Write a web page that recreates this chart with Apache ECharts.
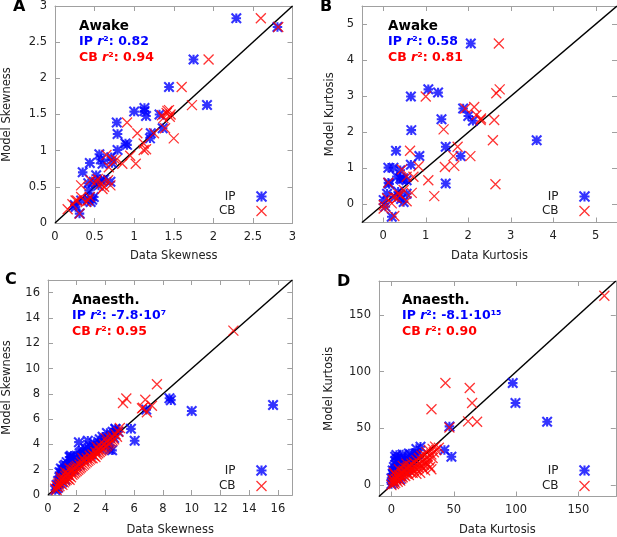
<!DOCTYPE html>
<html><head><meta charset="utf-8">
<script src="https://cdn.jsdelivr.net/npm/echarts@6/dist/echarts.min.js"></script>
<style>html,body{margin:0;padding:0;background:#fff}#c{width:617px;height:537px}</style>
</head><body><div id="c"></div>
<script>
// ---------- data ----------
const aIP=[[2.29,2.83],[2.81,2.71],[1.75,2.26],[1.44,1.88],[1.92,1.63],[1.0,1.54],[1.13,1.59],[1.15,1.48],[1.32,1.50],[0.78,1.39],[0.79,1.23],[0.89,1.10],[0.91,1.08],[0.79,1.01],[1.21,1.24],[1.20,1.17],[1.36,1.31],[0.56,0.95],[0.58,0.88],[0.60,0.82],[0.44,0.83],[0.35,0.70],[0.71,0.91],[0.72,0.83],[0.42,0.55],[0.43,0.45],[0.49,0.57],[0.58,0.59],[0.52,0.66],[0.70,0.57],[0.42,0.33],[0.45,0.29],[0.33,0.31],[0.26,0.22],[0.31,0.13],[0.49,0.36],[1.13,1.55],[0.62,0.60],[0.55,0.52],[0.25,0.25],[0.47,0.32]];
const aCB=[[2.60,2.83],[2.82,2.71],[1.94,2.26],[1.60,1.88],[1.73,1.63],[0.91,1.39],[1.04,1.24],[1.41,1.52],[1.44,1.56],[1.37,1.45],[1.39,1.31],[1.50,1.17],[1.12,1.10],[1.12,1.01],[1.25,1.24],[0.95,0.93],[1.02,0.82],[0.85,0.82],[0.65,0.94],[0.77,0.87],[0.68,0.77],[0.54,0.61],[0.58,0.54],[0.62,0.50],[0.52,0.57],[0.67,0.59],[0.33,0.52],[0.45,0.59],[0.33,0.36],[0.42,0.31],[0.44,0.36],[0.22,0.26],[0.16,0.19],[0.31,0.13],[0.39,0.29],[0.26,0.31],[1.42,1.55],[1.35,1.49],[1.46,1.50],[1.45,1.47],[0.60,0.47],[0.70,0.52],[0.28,0.31],[0.72,0.87],[1.15,1.02]];
const bIP=[[2.06,4.46],[1.06,3.19],[1.29,3.10],[0.65,2.99],[1.88,2.66],[2.00,2.45],[2.11,2.32],[1.37,2.36],[0.66,2.06],[1.47,1.60],[1.82,1.34],[3.61,1.78],[0.30,1.49],[0.85,1.34],[0.65,1.10],[0.12,1.02],[0.24,1.02],[0.40,0.95],[0.32,0.77],[0.48,0.72],[0.40,0.72],[0.55,0.67],[1.47,0.58],[0.12,0.60],[0.09,0.30],[0.05,-0.06],[0.20,-0.34],[0.55,0.30],[0.48,0.07],[0.28,0.21],[0.01,0.12],[0.43,0.69],[0.14,0.57],[0.35,0.35],[0.42,0.15]];
const bCB=[[2.72,4.46],[1.00,2.99],[2.74,3.19],[2.66,3.08],[1.93,2.66],[2.19,2.48],[2.29,2.34],[2.61,2.34],[1.42,2.08],[2.58,1.78],[1.75,1.60],[0.63,1.49],[1.65,1.34],[2.05,1.34],[1.45,1.04],[1.67,1.07],[0.83,1.06],[1.06,0.67],[1.20,0.23],[2.64,0.56],[0.67,0.32],[0.55,0.09],[0.44,0.97],[0.55,0.77],[0.71,0.77],[0.12,0.60],[0.24,0.21],[0.32,0.17],[0.40,0.26],[0.20,0.03],[0.01,-0.02],[0.09,0.17],[0.26,-0.32],[0.01,-0.11],[2.14,2.70],[2.30,2.38],[0.35,0.30],[0.48,0.40]];
const cIP=[[0.5,0.4],[0.6,0.8],[0.7,1.1],[0.7,0.6],[0.8,1.4],[0.8,0.9],[0.9,1.7],[0.9,1.2],[1.0,2.0],[1.0,1.0],[1.1,1.5],[1.1,2.3],[1.2,1.8],[1.2,1.2],[1.3,2.1],[1.3,2.6],[1.4,1.6],[1.5,2.4],[1.5,3.0],[1.6,1.9],[1.6,2.7],[1.7,2.2],[1.8,2.9],[1.8,2.0],[1.9,2.5],[2.0,3.1],[2.0,2.3],[2.1,2.7],[2.2,3.3],[2.2,2.4],[2.3,2.9],[2.4,3.5],[2.5,2.8],[2.5,3.2],[2.6,3.7],[2.7,3.0],[2.8,3.4],[2.9,3.9],[3.0,3.2],[3.1,3.6],[3.2,4.1],[3.3,3.5],[3.4,3.8],[3.5,4.2],[3.6,3.7],[3.7,4.0],[3.8,4.6],[3.9,4.1],[4.0,4.4],[4.1,4.9],[4.2,4.3],[4.3,3.6],[4.4,4.7],[4.5,5.0],[4.6,4.5],[4.7,5.2],[4.9,5.0],[0.6,0.5],[1.0,1.4],[1.4,2.2],[1.2,2.4],[0.9,2.1],[1.7,2.5],[2.3,3.4],[1.1,1.9],[2.9,3.3],[3.6,4.4],[4.2,3.9],[0.8,1.8],[1.6,3.1],[2.15,4.18],[2.77,4.29],[1.57,3.0],[4.46,3.53],[4.69,5.23],[5.77,5.23],[6.03,4.29],[6.84,6.75],[8.45,7.65],[8.55,7.5],[10.0,6.64],[15.66,7.11]];
const cCB=[[0.5,0.5],[0.6,0.7],[0.6,0.4],[0.7,0.9],[0.7,0.6],[0.8,0.7],[0.8,1.0],[0.9,0.9],[0.9,1.2],[1.0,0.8],[1.0,1.1],[1.1,1.3],[1.1,1.0],[1.2,1.1],[1.2,1.5],[1.3,1.2],[1.3,1.6],[1.4,1.3],[1.4,1.7],[1.5,1.5],[1.5,1.2],[1.6,1.8],[1.6,1.4],[1.7,1.6],[1.7,2.0],[1.8,1.7],[1.8,2.1],[1.9,1.8],[1.9,2.2],[2.0,1.9],[2.0,2.3],[2.1,2.0],[2.2,2.4],[2.2,2.1],[2.3,2.2],[2.3,2.6],[2.4,2.3],[2.5,2.7],[2.5,2.4],[2.6,2.5],[2.7,2.9],[2.7,2.6],[2.8,2.7],[2.9,3.1],[2.9,2.8],[3.0,2.9],[3.1,3.2],[3.1,2.9],[3.2,3.1],[3.3,3.4],[3.3,3.0],[3.4,3.2],[3.5,3.6],[3.5,3.3],[3.6,3.4],[3.7,3.8],[3.7,3.5],[3.8,3.6],[3.9,4.0],[3.9,3.7],[4.0,3.8],[4.1,4.2],[4.1,3.9],[4.2,4.0],[4.3,4.5],[4.3,4.1],[4.4,4.2],[4.5,4.6],[4.5,4.3],[4.6,4.4],[4.7,4.8],[4.8,4.6],[4.9,5.0],[5.0,5.3],[1.2,1.8],[1.5,2.1],[0.9,1.4],[2.4,2.9],[3.4,3.8],[4.0,4.5],[5.22,7.27],[5.45,7.63],[6.54,6.85],[6.77,7.53],[6.88,6.54],[7.23,7.06],[7.58,8.76],[6.6,6.9],[12.9,13.0]];
const dIP=[[0,1],[1,4],[2,7],[1,10],[3,13],[2,16],[4,18],[3,21],[5,15],[6,11],[7,19],[8,14],[9,21],[10,17],[11,23],[12,20],[13,15],[14,22],[15,19],[16,26],[17,21],[18,24],[19,28],[21,27],[2,3],[4,6],[6,9],[8,8],[10,12],[12,13],[5,23],[3,25],[9,27],[1,13],[0,6],[14,28],[4,10],[7,5],[97.3,90],[99.5,72.4],[124.9,55.9],[46.5,51.8],[42.5,30.9],[48.1,25],[23.3,33.8],[20,31.8],[4,26.5],[7.8,24.4]];
const dCB=[[0,0],[1,2],[1,5],[2,1],[2,4],[3,6],[3,2],[4,5],[4,8],[5,3],[5,7],[6,9],[6,5],[7,4],[7,8],[8,10],[8,6],[9,12],[9,7],[10,9],[10,13],[11,8],[11,12],[12,15],[12,10],[13,11],[13,16],[14,13],[14,9],[15,17],[15,12],[16,14],[16,19],[17,11],[17,15],[18,20],[18,13],[19,16],[20,22],[20,14],[21,18],[22,24],[22,15],[23,19],[24,26],[24,17],[25,21],[26,27],[26,18],[27,23],[28,29],[28,20],[29,25],[30,31],[30,22],[31,16],[32,27],[33,32],[33,24],[34,29],[35,34],[36,31],[38,33],[32,14],[29,18],[25,15],[20,10],[27,13],[23,11],[3,9],[2,11],[6,14],[9,17],[12,19],[43.3,90],[62.8,85.6],[32.1,67],[64.7,72.4],[61.5,56.2],[68.7,55.9],[46.5,50.9],[170.8,167]];

const rangeA=[0,3],   ticksA=[0,0.5,1,1.5,2,2.5,3];
const rangeB=[-0.5,5.5], ticksB=[0,1,2,3,4,5];
const rangeC=[0,17],  ticksC=[0,2,4,6,8,10,12,14,16];
const rangeD=[-10,180], ticksD=[0,50,100,150];

const panelLetters=['A','B','C','D'];
const stateLabels=['Awake','Awake','Anaesth.','Anaesth.'];
const ipR2=['0.82','0.58','-7.8·10⁷','-8.1·10¹⁵'];
const cbR2=['0.94','0.81','0.95','0.90'];
const xNames=['Data Skewness','Data Kurtosis','Data Skewness','Data Kurtosis'];
const yNames=['Model Skewness','Model Kurtosis','Model Skewness','Model Kurtosis'];

// ---------- styling ----------
const BLUE='#0000ff', RED='#ff0000', FRAME='#a0a0a0', FONT='DejaVu Sans';
const xSym='path://M0,0L10,10M10,0L0,10';
const starSym='path://M0,0L10,10M10,0L0,10M5,0L5,10M0,5L10,5';

const panels=[
 {ip:aIP,cb:aCB,range:rangeA,ticks:ticksA,grid:{left:54.5,top:6,width:238,height:217},xGap:27,yGap:42,lg:{right:348,top:189,itemGap:-0.5},txt:{x:79,y:28},let:{x:13,y:-1}},
 {ip:bIP,cb:bCB,range:rangeB,ticks:ticksB,grid:{left:362,top:6,width:256.6,height:216.5},xGap:28,yGap:25.5,lg:{right:25,top:189,itemGap:-0.5},txt:{x:388,y:28},let:{x:320,y:-1}},
 {ip:cIP,cb:cCB,range:rangeC,ticks:ticksC,grid:{left:47.3,top:280,width:245,height:216.7},xGap:29,yGap:35,lg:{right:348,top:463,itemGap:0.5},txt:{x:72,y:302},let:{x:5,y:272}},
 {ip:dIP,cb:dCB,range:rangeD,ticks:ticksD,grid:{left:379,top:281,width:236.8,height:216},xGap:27.5,yGap:43.5,lg:{right:25,top:463,itemGap:0.5},txt:{x:402,y:302},let:{x:337,y:274}}
];

const grids=[],xAxes=[],yAxes=[],series=[],legends=[],graphics=[];
function axis(gi,p,pos,main,name,gap){
  return {type:'value',gridIndex:gi,position:pos,min:p.range[0],max:p.range[1],
    axisLine:{show:true,onZero:false,lineStyle:{color:FRAME,width:1}},
    axisTick:{show:true,inside:true,length:5,customValues:p.ticks,lineStyle:{color:FRAME,width:1}},
    axisLabel:{show:main,customValues:p.ticks,margin:8,fontSize:11.5,color:'#222',fontFamily:FONT},
    splitLine:{show:false},
    name:main?name:'',nameLocation:'middle',nameGap:gap,
    nameTextStyle:{fontSize:11.5,color:'#222',fontFamily:FONT}};
}
panels.forEach((p,i)=>{
  grids.push(Object.assign({containLabel:false},p.grid));
  xAxes.push(axis(i,p,'bottom',true,xNames[i],p.xGap));
  xAxes.push(axis(i,p,'top',false,'',0));
  yAxes.push(axis(i,p,'left',true,yNames[i],p.yGap));
  yAxes.push(axis(i,p,'right',false,'',0));
  series.push({type:'line',xAxisIndex:2*i,yAxisIndex:2*i,data:[[p.range[0],p.range[0]],[p.range[1],p.range[1]]],
    symbol:'none',silent:true,lineStyle:{color:'#000',width:1.5},z:1});
  series.push({name:'IP',type:'scatter',xAxisIndex:2*i,yAxisIndex:2*i,data:p.ip,symbol:starSym,symbolSize:9.5,
    itemStyle:{color:'none',borderColor:BLUE,borderWidth:2.1},z:2,silent:true});
  series.push({name:'CB',type:'scatter',xAxisIndex:2*i,yAxisIndex:2*i,data:p.cb,symbol:xSym,symbolSize:10,
    itemStyle:{color:'none',borderColor:RED,borderWidth:1.3},z:3,silent:true});
  legends.push({orient:'vertical',right:p.lg.right,top:p.lg.top,itemGap:p.lg.itemGap,itemWidth:10,itemHeight:10,
    align:'right',padding:0,selectedMode:false,
    textStyle:{fontSize:12,lineHeight:12,color:'#222',fontFamily:FONT,padding:[0,16,0,0]},
    data:[{name:'IP',icon:starSym,itemStyle:{color:'none',borderColor:BLUE,borderWidth:2.1}},
          {name:'CB',icon:xSym,itemStyle:{color:'none',borderColor:RED,borderWidth:1.3}}]});
  graphics.push({type:'text',left:p.let.x,top:p.let.y,style:{text:panelLetters[i],fontFamily:FONT,fontWeight:'bold',fontSize:16,fill:'#000'}});
  graphics.push({type:'text',left:p.txt.x,top:p.txt.y-9,style:{text:stateLabels[i],fontFamily:FONT,fontWeight:'bold',fontSize:13.5,fill:'#000'}});
  const rich=c=>({b:{fontFamily:FONT,fontWeight:'bold',fontSize:12.5,fill:c},i:{fontFamily:FONT,fontWeight:'bold',fontStyle:'italic',fontSize:12.5,fill:c}});
  graphics.push({type:'text',left:p.txt.x,top:p.txt.y+7,style:{text:'{b|IP }{i|r}{b|²: '+ipR2[i]+'}',rich:rich(BLUE)}});
  graphics.push({type:'text',left:p.txt.x,top:p.txt.y+23,style:{text:'{b|CB }{i|r}{b|²: '+cbR2[i]+'}',rich:rich(RED)}});
});

const chart=echarts.init(document.getElementById('c'),null,{renderer:'canvas'});
chart.setOption({animation:false,backgroundColor:'#fff',grid:grids,xAxis:xAxes,yAxis:yAxes,series:series,legend:legends,graphic:graphics});
</script></body></html>
